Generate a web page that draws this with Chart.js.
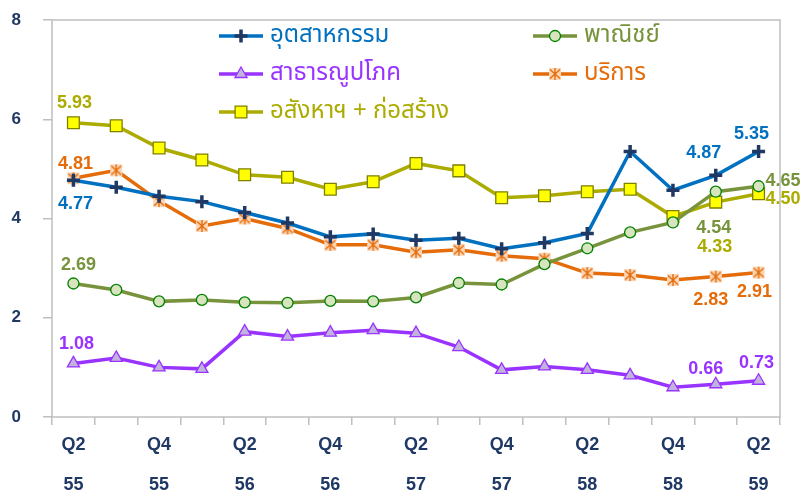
<!DOCTYPE html>
<html>
<head>
<meta charset="utf-8">
<script src="https://cdn.jsdelivr.net/npm/chart.js@4.4.1/dist/chart.umd.min.js"></script>
<style>
  html, body { margin: 0; padding: 0; background: #fff; }
  #wrap { width: 805px; height: 494px; }
</style>
</head>
<body>
<div id="wrap"><canvas id="chart" width="805" height="494"></canvas></div>
<script>
// quarters (Q2/55 .. Q2/59), only every other one is labelled on the axis
const quarters = ['Q2','Q3','Q4','Q1','Q2','Q3','Q4','Q1','Q2','Q3','Q4','Q1','Q2','Q3','Q4','Q1','Q2'];
const years    = ['55','55','55','56','56','56','56','57','57','57','57','58','58','58','58','59','59'];

const industry     = [4.77, 4.63, 4.45, 4.34, 4.12, 3.91, 3.63, 3.69, 3.56, 3.60, 3.39, 3.51, 3.70, 5.35, 4.57, 4.87, 5.35];
const commerce     = [2.69, 2.56, 2.33, 2.36, 2.31, 2.30, 2.34, 2.33, 2.41, 2.70, 2.67, 3.08, 3.40, 3.72, 3.92, 4.54, 4.65];
const utilities    = [1.08, 1.19, 1.00, 0.97, 1.72, 1.62, 1.70, 1.75, 1.69, 1.41, 0.95, 1.02, 0.95, 0.84, 0.60, 0.66, 0.73];
const services     = [4.81, 4.97, 4.35, 3.85, 4.00, 3.80, 3.47, 3.47, 3.32, 3.37, 3.25, 3.19, 2.90, 2.86, 2.76, 2.83, 2.91];
const construction = [5.93, 5.87, 5.42, 5.18, 4.88, 4.83, 4.59, 4.74, 5.11, 4.96, 4.42, 4.46, 4.54, 4.59, 4.04, 4.33, 4.50];

const seriesNames = ['อุตสาหกรรม', 'พาณิชย์', 'สาธารณูปโภค', 'บริการ', 'อสังหาฯ + ก่อสร้าง'];
const yTicks = [0, 2, 4, 6, 8];

// which points carry a value label
const labelPoints = [0, 15, 16];
// label placement relative to the point: [dx, dy, align]
const labelOffsets = [
  [[2, 24, 'center'], [-12, -22, 'center'], [-7, -17, 'center']],
  [[5, -18, 'center'], [-2, 36, 'center'], [7, -5, 'left']],
  [[3, -19, 'center'], [-10, -15, 'center'], [-2, -18, 'center']],
  [[2, -14, 'center'], [-5, 23, 'center'], [-4, 19, 'center']],
  [[1, -20, 'center'], [-1, 45, 'center'], [7, 5, 'left']]
];

const textColors = ['#0070C0', '#77933C', '#9933FF', '#E46C0A', '#ABAB00'];
const navy = '#1F3864';
const axisGray = '#BFBFBF';

// asterisk-in-a-box marker for services
function makeStarBox() {
  const c = document.createElement('canvas');
  c.width = 14; c.height = 14;
  const g = c.getContext('2d');
  g.fillStyle = '#FCD5B5';
  g.fillRect(1, 1, 12, 12);
  g.strokeStyle = '#E46C0A';
  g.lineWidth = 1.4;
  g.beginPath();
  g.moveTo(7, 1); g.lineTo(7, 13);
  g.moveTo(2, 2.5); g.lineTo(12, 11.5);
  g.moveTo(12, 2.5); g.lineTo(2, 11.5);
  g.stroke();
  return c;
}
const starBox = makeStarBox();

const datasets = [
  { label: seriesNames[0], data: industry, borderColor: '#0070C0', pointStyle: 'cross', pointRadius: 6.5,
    pointBorderColor: navy, pointBackgroundColor: navy, pointBorderWidth: 3.5 },
  { label: seriesNames[1], data: commerce, borderColor: '#77933C', pointStyle: 'circle', pointRadius: 5.5,
    pointBorderColor: '#008000', pointBackgroundColor: '#D7E4BD', pointBorderWidth: 1.3 },
  { label: seriesNames[2], data: utilities, borderColor: '#9933FF', pointStyle: 'triangle', pointRadius: 7,
    pointBorderColor: '#9933FF', pointBackgroundColor: '#C2B3DD', pointBorderWidth: 1.3 },
  { label: seriesNames[3], data: services, borderColor: '#E46C0A', pointStyle: starBox, pointRadius: 7,
    pointBorderColor: '#E46C0A', pointBackgroundColor: '#FCD5B5', pointBorderWidth: 1.3 },
  { label: seriesNames[4], data: construction, borderColor: '#ABAB00', pointStyle: 'rect', pointRadius: 8.3,
    pointBorderColor: '#7F7F00', pointBackgroundColor: '#FFFF00', pointBorderWidth: 1.3 }
].map(d => Object.assign(d, { borderWidth: 3.5, tension: 0, fill: false, clip: false, pointHoverRadius: d.pointRadius }));

// plot frame (all four sides)
const frame = {
  id: 'frame',
  beforeDatasetsDraw(chart) {
    const { ctx, chartArea: a } = chart;
    ctx.save();
    ctx.strokeStyle = axisGray;
    ctx.lineWidth = 1.5;
    ctx.strokeRect(a.left, a.top, a.right - a.left, a.bottom - a.top);
    ctx.restore();
  }
};

// value labels at the first and last points
const valueLabels = {
  id: 'valueLabels',
  afterDatasetsDraw(chart) {
    const ctx = chart.ctx;
    ctx.save();
    ctx.font = 'bold 18px "Liberation Sans", Arial, sans-serif';
    ctx.textBaseline = 'middle';
    chart.data.datasets.forEach((ds, i) => {
      const meta = chart.getDatasetMeta(i);
      labelPoints.forEach((idx, k) => {
        const p = meta.data[idx];
        const [dx, dy, align] = labelOffsets[i][k];
        ctx.fillStyle = textColors[i];
        ctx.textAlign = align;
        ctx.fillText(ds.data[idx].toFixed(2), p.x + dx, p.y + dy);
      });
    });
    ctx.restore();
  }
};

// two-column legend inside the plot
const legendBox = {
  id: 'legendBox',
  afterDraw(chart) {
    const ctx = chart.ctx;
    const colX = [219, 533];
    const rowY = [36, 74, 112];
    ctx.save();
    chart.data.datasets.forEach((ds, i) => {
      const x = colX[i % 2], y = rowY[Math.floor(i / 2)];
      ctx.strokeStyle = ds.borderColor;
      ctx.lineWidth = 3.5;
      ctx.beginPath();
      ctx.moveTo(x, y); ctx.lineTo(x + 44, y);
      ctx.stroke();
      ctx.fillStyle = ds.pointBackgroundColor;
      ctx.strokeStyle = ds.pointBorderColor;
      ctx.lineWidth = ds.pointBorderWidth;
      Chart.helpers.drawPoint(ctx, { pointStyle: ds.pointStyle, radius: ds.pointRadius, borderWidth: ds.pointBorderWidth, rotation: 0 }, x + 22, y);
      ctx.fillStyle = textColors[i];
      ctx.font = '24px "Noto Sans Thai", "Noto Sans", "DejaVu Sans", sans-serif';
      ctx.textAlign = 'left';
      ctx.textBaseline = 'middle';
      ctx.fillText(ds.label, x + 51, y + 1);
    });
    ctx.restore();
  }
};

new Chart(document.getElementById('chart'), {
  type: 'line',
  data: { labels: quarters.map((q, i) => [q, years[i]]), datasets },
  options: {
    responsive: false,
    animation: false,
    events: [],
    layout: { padding: { top: 20, right: 25, left: 0, bottom: 0 } },
    plugins: { legend: { display: false }, tooltip: { enabled: false } },
    scales: {
      x: {
        offset: true,
        border: { display: false },
        grid: { offset: true, drawOnChartArea: false, drawTicks: true, tickLength: 8, color: axisGray, lineWidth: 1.5 },
        ticks: {
          autoSkip: false, maxRotation: 0, padding: 0.5, color: navy,
          font: { family: '"Liberation Sans", Arial, sans-serif', size: 18, weight: 'bold', lineHeight: 2.2 },
          callback: (v, i) => i % 2 === 0 ? [quarters[i], years[i]] : ''
        },
        afterFit: s => { s.height = 77; s.paddingLeft = 0; s.paddingRight = 0; }
      },
      y: {
        min: yTicks[0], max: yTicks[yTicks.length - 1],
        border: { display: false },
        grid: { drawOnChartArea: false, drawTicks: true, tickLength: 9, color: axisGray, lineWidth: 1.5 },
        afterBuildTicks: s => { s.ticks = yTicks.map(v => ({ value: v })); },
        ticks: {
          padding: 22, color: navy,
          font: { family: '"Liberation Sans", Arial, sans-serif', size: 17, weight: 'bold' }
        },
        afterFit: s => { s.width = 52; s.paddingTop = 0; s.paddingBottom = 0; }
      }
    }
  },
  plugins: [frame, valueLabels, legendBox]
});
</script>
</body>
</html>
